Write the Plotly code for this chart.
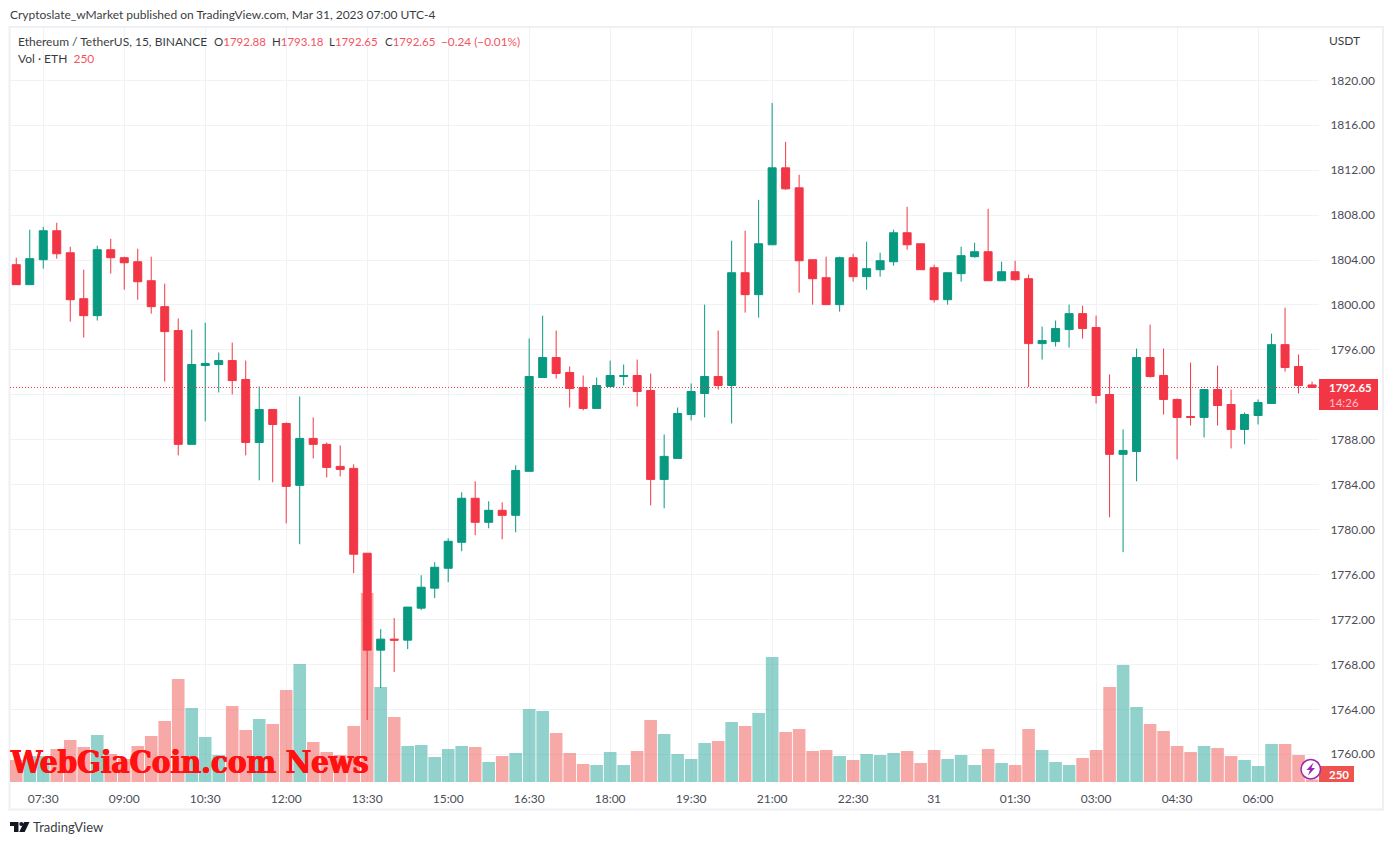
import pandas as pd
import plotly.graph_objects as go

W, H = 1393, 845
# plot area in page pixels
L, R, T, B = 10, 1319, 28, 782

UP = "#089981"
DOWN = "#F23645"
UP_VOL = "rgba(38,166,154,0.5)"
DOWN_VOL = "rgba(239,83,80,0.5)"
GRID = "#F1F2F6"
TEXT = "#131722"

times = pd.date_range("2023-03-30 07:00", periods=97, freq="15min")

opens = [
    1803.59, 1801.81, 1804.03, 1806.61, 1804.65, 1800.56, 1799.05, 1804.92, 1804.21, 1803.85,
    1802.16, 1799.85, 1797.72, 1787.59, 1794.61, 1794.70, 1795.05, 1793.36, 1787.76, 1790.70,
    1789.45, 1783.94, 1788.12, 1787.59, 1785.63, 1785.45, 1777.90, 1769.27, 1770.25, 1770.16,
    1773.01, 1774.79, 1776.56, 1778.87, 1782.79, 1780.65, 1781.72, 1781.27, 1785.19, 1793.54,
    1795.32, 1793.99, 1792.65, 1790.79, 1792.74, 1793.63, 1793.72, 1792.39, 1784.47, 1786.34,
    1790.25, 1792.12, 1793.63, 1792.83, 1802.87, 1800.92, 1805.36, 1812.21, 1810.43, 1804.03,
    1802.43, 1800.03, 1804.21, 1802.52, 1803.14, 1803.85, 1806.43, 1805.45, 1803.32, 1800.47,
    1802.79, 1804.30, 1804.74, 1802.16, 1802.96, 1802.34, 1796.56, 1796.74, 1797.81, 1799.23,
    1797.99, 1792.03, 1786.70, 1786.96, 1795.32, 1793.72, 1791.59, 1790.07, 1789.99, 1792.47,
    1791.14, 1788.92, 1790.16, 1791.23, 1796.47, 1794.52, 1792.88,
]
highs = [
    1804.21, 1806.70, 1806.96, 1807.32, 1805.19, 1803.14, 1805.27, 1805.90, 1804.30, 1805.01,
    1804.30, 1801.90, 1798.79, 1797.81, 1798.43, 1795.76, 1796.65, 1795.05, 1792.74, 1790.70,
    1789.54, 1791.85, 1789.99, 1787.76, 1787.50, 1785.81, 1777.90, 1771.14, 1772.12, 1773.10,
    1775.94, 1777.10, 1779.23, 1783.32, 1784.30, 1782.52, 1782.43, 1785.72, 1797.01, 1799.05,
    1797.72, 1794.52, 1793.72, 1793.54, 1795.05, 1794.70, 1795.14, 1793.90, 1788.47, 1790.87,
    1793.01, 1800.03, 1797.72, 1805.72, 1806.61, 1809.36, 1817.99, 1814.52, 1811.59, 1804.03,
    1804.30, 1804.30, 1804.56, 1805.63, 1804.65, 1806.70, 1808.74, 1805.45, 1803.59, 1802.87,
    1805.19, 1805.54, 1808.56, 1803.85, 1803.94, 1802.70, 1798.07, 1798.61, 1800.03, 1799.94,
    1799.05, 1793.81, 1788.92, 1796.12, 1798.25, 1796.12, 1791.67, 1794.87, 1792.47, 1794.61,
    1792.47, 1790.43, 1791.59, 1797.45, 1799.76, 1795.59, 1793.18,
]
lows = [
    1801.81, 1801.81, 1803.23, 1804.12, 1798.52, 1797.10, 1798.61, 1802.79, 1801.36, 1800.47,
    1799.23, 1793.19, 1786.61, 1787.59, 1789.63, 1792.21, 1792.03, 1786.61, 1784.39, 1784.21,
    1780.56, 1778.70, 1786.34, 1784.65, 1784.74, 1776.12, 1763.05, 1765.90, 1767.32, 1769.36,
    1772.83, 1773.90, 1775.32, 1778.07, 1779.50, 1780.12, 1779.14, 1779.76, 1785.19, 1793.54,
    1793.45, 1790.87, 1790.61, 1790.79, 1792.74, 1792.83, 1790.96, 1782.16, 1781.90, 1786.34,
    1789.72, 1789.99, 1792.47, 1789.45, 1799.32, 1798.87, 1805.36, 1810.25, 1801.10, 1800.03,
    1800.03, 1799.41, 1802.07, 1801.36, 1802.52, 1803.50, 1804.92, 1803.14, 1800.21, 1800.03,
    1802.07, 1804.21, 1802.16, 1802.16, 1802.16, 1792.71, 1795.14, 1796.30, 1796.21, 1797.01,
    1791.23, 1781.10, 1777.99, 1784.30, 1793.54, 1790.25, 1786.25, 1789.27, 1788.21, 1789.27,
    1787.23, 1787.59, 1789.36, 1791.23, 1794.07, 1792.12, 1792.65,
]
closes = [
    1801.81, 1804.12, 1806.61, 1804.56, 1800.47, 1799.05, 1804.92, 1804.21, 1803.76, 1802.07,
    1799.85, 1797.63, 1787.59, 1794.70, 1794.79, 1795.05, 1793.27, 1787.76, 1790.70, 1789.36,
    1783.85, 1788.12, 1787.59, 1785.54, 1785.36, 1777.81, 1769.27, 1770.25, 1770.16, 1773.10,
    1774.87, 1776.65, 1778.96, 1782.79, 1780.65, 1781.72, 1781.27, 1785.27, 1793.63, 1795.32,
    1793.90, 1792.56, 1790.79, 1792.83, 1793.72, 1793.72, 1792.30, 1784.47, 1786.52, 1790.34,
    1792.30, 1793.63, 1792.83, 1802.87, 1800.92, 1805.45, 1812.21, 1810.34, 1803.94, 1802.34,
    1800.03, 1804.21, 1802.52, 1803.23, 1803.94, 1806.43, 1805.36, 1803.14, 1800.47, 1802.87,
    1804.39, 1804.74, 1802.16, 1802.96, 1802.25, 1796.56, 1796.83, 1797.90, 1799.23, 1797.90,
    1791.94, 1786.70, 1787.05, 1795.32, 1793.63, 1791.59, 1789.99, 1789.99, 1792.47, 1791.05,
    1788.92, 1790.25, 1791.32, 1796.47, 1794.43, 1792.83, 1792.65,
]
volumes = [
    2200, 2600, 2600, 3300, 4200, 3500, 4700, 2800, 2300, 3600,
    4600, 6100, 10300, 7400, 4500, 2700, 7600, 5200, 6300, 5800,
    9200, 11800, 4000, 3000, 2700, 5600, 18900, 9500, 6500, 3600,
    3700, 2500, 3300, 3600, 3500, 2000, 2600, 2900, 7300, 7100,
    4900, 2900, 1800, 1700, 3000, 1700, 3100, 6200, 4800, 2800,
    2300, 3900, 4100, 6000, 5600, 6900, 12500, 5000, 5300, 3100,
    3200, 2600, 2200, 2800, 2700, 2900, 3100, 1900, 3200, 2300,
    2700, 1700, 3300, 1900, 1700, 5300, 3200, 2000, 1700, 2400,
    3200, 9500, 11700, 7500, 5800, 5100, 3600, 3000, 3600, 3400,
    2600, 2200, 1600, 3800, 3800, 2700, 250,
]

price_ticks = [
    1760, 1764, 1768, 1772, 1776, 1780, 1784, 1788, 1792, 1796,
    1800, 1804, 1808, 1812, 1816, 1820,
]
# the 1792 label sits behind the last-price tag in the original
price_labels = [
    "1760.00", "1764.00", "1768.00", "1772.00", "1776.00", "1780.00", "1784.00", "1788.00", "",
    "1796.00", "1800.00", "1804.00", "1808.00", "1812.00", "1816.00", "1820.00",
]
time_ticks = [
    "2023-03-30 07:30", "2023-03-30 09:00", "2023-03-30 10:30", "2023-03-30 12:00",
    "2023-03-30 13:30", "2023-03-30 15:00", "2023-03-30 16:30", "2023-03-30 18:00",
    "2023-03-30 19:30", "2023-03-30 21:00", "2023-03-30 22:30", "2023-03-31 00:00",
    "2023-03-31 01:30", "2023-03-31 03:00", "2023-03-31 04:30", "2023-03-31 06:00",
]
time_labels = [
    "07:30", "09:00", "10:30", "12:00", "13:30", "15:00", "16:30", "18:00",
    "19:30", "21:00", "22:30", "31", "01:30", "03:00", "04:30", "06:00",
]
last_price = 1792.65


def fx(px):
    return (px - L) / (R - L)


def fy(py):
    return (B - py) / (B - T)


def label(x, y, text, size=12, color=TEXT, anchor="left", family="Lato", opacity=0.85, **font_extra):
    return dict(
        xref="paper", yref="paper", x=fx(x), y=fy(y), text=text, showarrow=False,
        xanchor=anchor, yanchor="middle", borderpad=0, opacity=opacity,
        font=dict(family=family, size=size, color=color, **font_extra),
    )


def box(x0, y0, x1, y1, fill=None, line=None, width=0, layer="above"):
    return dict(
        type="rect", xref="paper", yref="paper", x0=fx(x0), y0=fy(y0), x1=fx(x1), y1=fy(y1),
        fillcolor=fill, line=dict(color=line, width=width), layer=layer,
    )


def poly(points, fill):
    d = "M " + " L ".join(f"{fx(a):.5f},{fy(b):.5f}" for a, b in points) + " Z"
    return dict(type="path", xref="paper", yref="paper", path=d, fillcolor=fill, line=dict(width=0), layer="above")


fig = go.Figure()
fig.add_trace(
    go.Bar(
        x=times, y=volumes, yaxis="y", width=840000,
        marker=dict(color=[UP_VOL if c >= o else DOWN_VOL for o, c in zip(opens, closes)], line=dict(width=0)),
        hoverinfo="skip",
    )
)
fig.add_trace(
    go.Candlestick(
        x=times, open=opens, high=highs, low=lows, close=closes, yaxis="y2",
        whiskerwidth=0,
        increasing=dict(line=dict(color=UP, width=1), fillcolor=UP),
        decreasing=dict(line=dict(color=DOWN, width=1), fillcolor=DOWN),
    )
)

shapes = [
    # outer frame of the published chart
    box(9.5, 27, 1383, 809.5, line="#EFF0F5", width=2, layer="below"),
    dict(type="line", xref="paper", yref="y2", x0=0, x1=1, y0=last_price, y1=last_price,
         line=dict(color=DOWN, width=1, dash="1px,2px"), layer="above"),
    box(1319, 379, 1378, 410, fill=DOWN),
    box(1319, 766, 1354, 782, fill="#EF5350"),
    # lightning badge
    dict(type="circle", xref="paper", yref="paper", x0=fx(1301), x1=fx(1320.5), y0=fy(779), y1=fy(759.5),
         fillcolor="white", line=dict(color="#9C27B0", width=1.5), layer="above"),
    poly([(1313.5, 762.5), (1306.5, 770), (1310, 770), (1308, 775.5), (1315, 768), (1311.5, 768)], "#9C27B0"),
    # TradingView logo
    poly([(10, 822), (18.5, 822), (18.5, 832), (14, 832), (14, 826), (10, 826)], TEXT),
    dict(type="circle", xref="paper", yref="paper", x0=fx(19.3), x1=fx(23.3), y0=fy(826), y1=fy(822),
         fillcolor=TEXT, line=dict(width=0), layer="above"),
    poly([(24, 822), (29.5, 822), (24.7, 832), (19.2, 832)], TEXT),
]

annotations = [
    label(9, 14.5, "Cryptoslate_wMarket published on TradingView.com, Mar 31, 2023 07:00 UTC-4"),
    label(17, 41, "Ethereum / TetherUS, 15, BINANCE"),
    label(213, 41, f"O<span style='color:{DOWN}'>1792.88</span>", size=11.5),
    label(270.5, 41, f"H<span style='color:{DOWN}'>1793.18</span>", size=11.5),
    label(328, 41, f"L<span style='color:{DOWN}'>1792.65</span>", size=11.5),
    label(383.5, 41, f"C<span style='color:{DOWN}'>1792.65</span>", size=11.5),
    label(440, 41, "−0.24 (−0.01%)", size=11.8, color=DOWN),
    label(17, 58, f"Vol · ETH  <span style='color:{DOWN}'>250</span>"),
    label(1328, 40.5, "USDT"),
    label(1328, 387, "<b>1792.65</b>", size=11.5, color="white", opacity=1),
    label(1328, 402, "14:26", size=11.5, color="rgba(255,255,255,0.7)", opacity=1),
    label(1328, 774.5, "<b>250</b>", size=11.5, color="white", opacity=1),
    label(32, 827, "TradingView", size=13),
    label(8.5, 762, "<b>WebGiaCoin.com News</b>", size=31, color="#FF1111",
          family="DejaVu Serif Condensed", opacity=1,
          shadow="0.6px 0 0 #FF1111, -0.6px 0 0 #FF1111"),
]

fig.update_layout(
    width=W, height=H,
    margin=dict(l=L, r=W - R, t=T, b=H - B, pad=0),
    paper_bgcolor="white", plot_bgcolor="white",
    showlegend=False,
    font=dict(family="Lato", size=12, color=TEXT),
    shapes=shapes,
    annotations=annotations,
    barmode="overlay",
    boxgap=0.407, boxgroupgap=0,
    xaxis=dict(
        type="date", range=["2023-03-30 06:53:03", "2023-03-31 07:07:43"],
        rangeslider=dict(visible=False),
        tickmode="array", tickvals=time_ticks, ticktext=time_labels,
        showgrid=True, gridcolor=GRID, gridwidth=1, zeroline=False, showline=False,
        ticks="outside", ticklen=6, tickcolor="rgba(0,0,0,0)",
        tickfont=dict(family="Lato", size=12, color="#4A4D57"),
    ),
    yaxis=dict(range=[0, 75400], visible=False, showgrid=False, fixedrange=True),
    yaxis2=dict(
        overlaying="y", side="right", anchor="x",
        range=[1757.53, 1824.66], tickmode="array", tickvals=price_ticks, ticktext=price_labels,
        showgrid=True, gridcolor=GRID, gridwidth=1, zeroline=False, showline=False,
        ticks="outside", ticklen=8, tickcolor="rgba(0,0,0,0)",
        tickfont=dict(family="Lato", size=12, color="#4A4D57"),
    ),
)

fig.write_html(
    "out.html",
    config={"displayModeBar": False},
    post_script="document.body.style.margin='0';document.body.style.overflow='hidden';",
)
